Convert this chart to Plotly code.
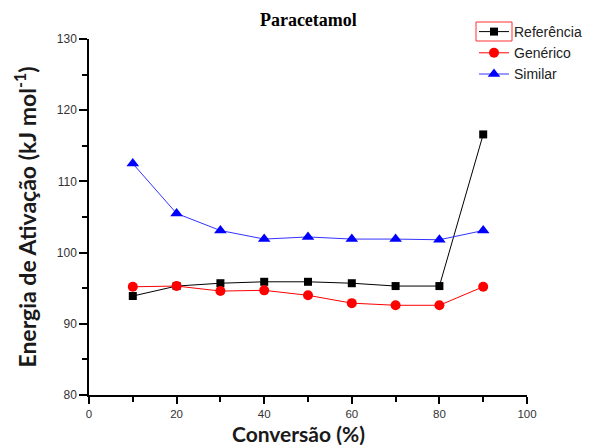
import plotly.graph_objects as go

conversao = [10, 20, 30, 40, 50, 60, 70, 80, 90]
referencia = [93.9, 95.3, 95.7, 95.9, 95.9, 95.7, 95.3, 95.3, 116.6]
generico = [95.2, 95.3, 94.6, 94.7, 94.0, 92.9, 92.6, 92.6, 95.2]
similar = [112.5, 105.5, 103.1, 101.9, 102.2, 101.9, 101.9, 101.8, 103.1]

fig = go.Figure()
fig.add_trace(go.Scatter(x=conversao, y=referencia, mode="lines+markers", name="Referência",
                         line=dict(color="black", width=1),
                         marker=dict(symbol="square", size=8, color="black")))
fig.add_trace(go.Scatter(x=conversao, y=generico, mode="lines+markers", name="Genérico",
                         line=dict(color="#ff0000", width=1),
                         marker=dict(symbol="circle", size=10, color="#ff0000")))
fig.add_trace(go.Scatter(x=conversao, y=similar, mode="lines+markers", name="Similar",
                         line=dict(color="#3333ff", width=1),
                         marker=dict(symbol="triangle-up", size=11, color="#0000ff")))

L, R, T, B = 89, 68, 39, 50
W, H = 595, 445
pw, ph = W - L - R, H - T - B

def px(x):
    return (x - L) / pw

def py(y):
    return (H - B - y) / ph

fig.update_layout(
    width=W, height=H,
    margin=dict(l=L, r=R, t=T, b=B, autoexpand=False),
    plot_bgcolor="white", paper_bgcolor="white",
    title=dict(text="<b>Paracetamol</b>", x=px(316), xanchor="center", y=1 - 20 / H, yanchor="middle",
               font=dict(family="Liberation Serif", size=18, color="black")),
    xaxis=dict(range=[0, 100], tickvals=[0, 20, 40, 60, 80, 100], showgrid=False, zeroline=False,
               showline=True, linecolor="black", linewidth=1.5, ticks="outside", ticklen=7,
               tickcolor="black", tickwidth=1.5,
               minor=dict(tickvals=[10, 30, 50, 70, 90], ticks="outside", ticklen=5, tickcolor="black", tickwidth=1.5),
               tickfont=dict(family="Liberation Sans", size=11.5, color="#333333")),
    yaxis=dict(range=[80, 130], tickvals=[80, 90, 100, 110, 120, 130], showgrid=False, zeroline=False,
               showline=True, linecolor="black", linewidth=1.5, ticks="outside", ticklen=8,
               tickcolor="black", tickwidth=1.5,
               minor=dict(tickvals=[85, 95, 105, 115, 125], ticks="outside", ticklen=5, tickcolor="black", tickwidth=1.5),
               tickfont=dict(family="Liberation Sans", size=12, color="#333333"),
               title=dict(text="<b>Energia de Ativação (kJ mol<sup>-1</sup>)</b>", standoff=14,
                          font=dict(family="Lato", size=23, color="#1a1a1a"))),
    legend=dict(x=px(474), y=py(16), xanchor="left", yanchor="top", bgcolor="rgba(0,0,0,0)",
                font=dict(family="Liberation Sans", size=14, color="#222222"),
                tracegroupgap=0, itemwidth=30),
    showlegend=True,
)
fig.add_annotation(text="<b>Conversão (%)</b>", xref="paper", yref="paper",
                   x=px(298), y=py(433), xanchor="center", yanchor="middle", showarrow=False,
                   font=dict(family="Lato", size=21, color="#1a1a1a"))
fig.add_shape(type="rect", xref="paper", yref="paper",
              x0=px(476), x1=px(512), y0=py(41), y1=py(22),
              line=dict(color="#ff3333", width=1))

fig.write_html("out.html", config={"displayModeBar": False},
               post_script="document.body.style.margin='0';document.body.style.overflow='hidden';")
